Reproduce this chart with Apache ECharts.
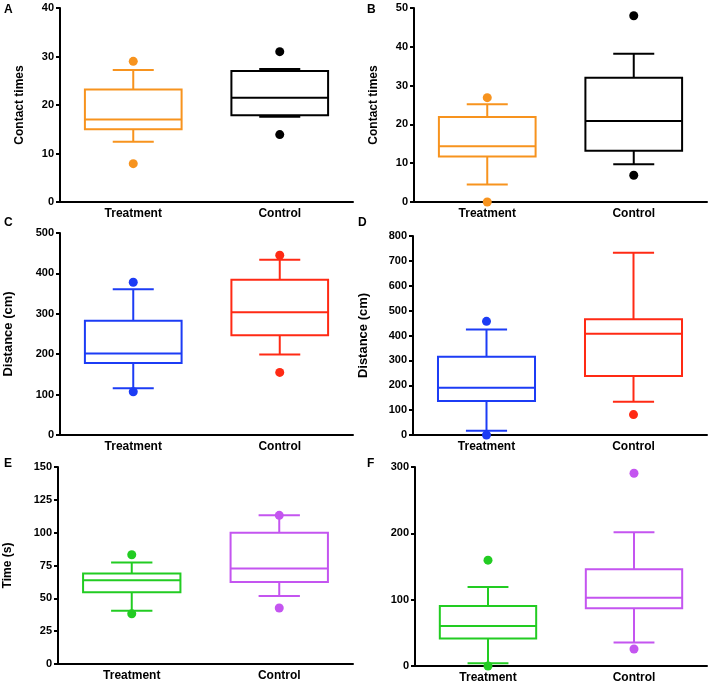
<!DOCTYPE html>
<html>
<head>
<meta charset="utf-8">
<script src="https://cdn.jsdelivr.net/npm/echarts@6/dist/echarts.min.js"></script>
</head>
<body style="margin: 0; background: #fff">
<div id="main" style="width: 708px; height: 688px"></div>
<script type="text/javascript">
    var categories = ['Treatment', 'Control'];

    // box values: [lower whisker, Q1, median, Q3, upper whisker]
    var aTreatment = [12.4, 15.0, 17.0, 23.2, 27.2];
    var aControl = [17.6, 17.9, 21.5, 27.0, 27.4];
    var aTreatmentOut = [29, 7.9];
    var aControlOut = [31, 13.9];

    var bTreatment = [4.5, 11.7, 14.4, 21.9, 25.2];
    var bControl = [9.7, 13.2, 20.9, 32.0, 38.2];
    var bTreatmentOut = [26.9, 0];
    var bControlOut = [48, 6.9];

    var cTreatment = [116, 178, 202, 283, 361];
    var cControl = [199, 247, 304, 384, 434];
    var cTreatmentOut = [378, 107];
    var cControlOut = [445, 155];

    var dTreatment = [17, 137, 190, 315, 424];
    var dControl = [134, 237, 407, 465, 733];
    var dTreatmentOut = [457, 0];
    var dControlOut = [82];

    var eTreatment = [40.6, 54.6, 63.7, 69.0, 77.2];
    var eControl = [51.8, 62.4, 72.8, 100, 113.2];
    var eTreatmentOut = [83.2, 38.3];
    var eControlOut = [113.2, 42.6];

    var fTreatment = [4, 41.6, 60.2, 90.3, 119];
    var fControl = [35.6, 87, 103, 146, 201.7];
    var fTreatmentOut = [159.6, 0];
    var fControlOut = [290.5, 25.6];

    // y ticks: [min, max, interval]
    var aTicks = [0, 40, 10];
    var bTicks = [0, 50, 10];
    var cTicks = [0, 500, 100];
    var dTicks = [0, 800, 100];
    var eTicks = [0, 150, 25];
    var fTicks = [0, 300, 100];

    var yTitles = ['Contact times', 'Contact times', 'Distance (cm)', 'Distance (cm)', 'Time (s)', ''];
    var letters = ['A', 'B', 'C', 'D', 'E', 'F'];

    var font = 'Liberation Sans, Arial, sans-serif';

    var panels = [
        {box: [aTreatment, aControl], out: [aTreatmentOut, aControlOut], ticks: aTicks, colors: ['#F7931E', '#000000'],
            grid: {left: 60, top: 8, width: 293, height: 194}, gap: 34, nameSize: 12, letter: [4, 4]},
        {box: [bTreatment, bControl], out: [bTreatmentOut, bControlOut], ticks: bTicks, colors: ['#F7931E', '#000000'],
            grid: {left: 414, top: 8, width: 293, height: 194}, gap: 34, nameSize: 12, letter: [367, 4]},
        {box: [cTreatment, cControl], out: [cTreatmentOut, cControlOut], ticks: cTicks, colors: ['#1C3CF5', '#FF2A14'],
            grid: {left: 60, top: 233, width: 293, height: 202}, gap: 45, nameSize: 13, letter: [4, 217]},
        {box: [dTreatment, dControl], out: [dTreatmentOut, dControlOut], ticks: dTicks, colors: ['#1C3CF5', '#FF2A14'],
            grid: {left: 413, top: 236, width: 294, height: 199}, gap: 43, nameSize: 13, letter: [358, 217]},
        {box: [eTreatment, eControl], out: [eTreatmentOut, eControlOut], ticks: eTicks, colors: ['#22CC22', '#C455F0'],
            grid: {left: 58, top: 467, width: 295, height: 197}, gap: 44, nameSize: 12, letter: [4, 458]},
        {box: [fTreatment, fControl], out: [fTreatmentOut, fControlOut], ticks: fTicks, colors: ['#22CC22', '#C455F0'],
            grid: {left: 415, top: 467, width: 292, height: 199}, gap: 40, nameSize: 12, letter: [367, 458]}
    ];

    function makeRender(colors) {
        return function (params, api) {
            var idx = api.value(0);
            var band = api.size([1, 0])[0];
            var half = band * 0.33;
            var cap = band * 0.14;
            var lo = api.coord([idx, api.value(1)]);
            var q1 = api.coord([idx, api.value(2)]);
            var md = api.coord([idx, api.value(3)]);
            var q3 = api.coord([idx, api.value(4)]);
            var hi = api.coord([idx, api.value(5)]);
            var x = lo[0];
            var st = {stroke: colors[idx], lineWidth: 2, fill: 'none'};
            return {
                type: 'group',
                children: [
                    {type: 'line', shape: {x1: x, y1: q3[1], x2: x, y2: hi[1]}, style: st},
                    {type: 'line', shape: {x1: x, y1: q1[1], x2: x, y2: lo[1]}, style: st},
                    {type: 'line', shape: {x1: x - cap, y1: hi[1], x2: x + cap, y2: hi[1]}, style: st},
                    {type: 'line', shape: {x1: x - cap, y1: lo[1], x2: x + cap, y2: lo[1]}, style: st},
                    {type: 'rect', shape: {x: x - half, y: q3[1], width: half * 2, height: q1[1] - q3[1]}, style: st},
                    {type: 'line', shape: {x1: x - half, y1: md[1], x2: x + half, y2: md[1]}, style: st}
                ]
            };
        };
    }

    var grids = [], xAxes = [], yAxes = [], series = [], titles = [];
    panels.forEach(function (p, i) {
        grids.push({left: p.grid.left, top: p.grid.top, width: p.grid.width, height: p.grid.height, outerBoundsMode: 'none'});
        xAxes.push({
            type: 'category', gridIndex: i, data: categories, boundaryGap: true,
            axisLine: {lineStyle: {color: '#000', width: 2}},
            axisTick: {alignWithLabel: true, length: 5, lineStyle: {color: '#000', width: 2}},
            axisLabel: {color: '#000', fontWeight: 'bold', fontSize: 12, fontFamily: font, margin: 6},
            splitLine: {show: false}
        });
        yAxes.push({
            type: 'value', gridIndex: i, min: p.ticks[0], max: p.ticks[1], interval: p.ticks[2],
            name: yTitles[i], nameLocation: 'middle', nameGap: p.gap,
            nameTextStyle: {color: '#000', fontWeight: 'bold', fontSize: p.nameSize, fontFamily: font},
            axisLine: {show: true, lineStyle: {color: '#000', width: 2}},
            axisTick: {show: true, length: 4, lineStyle: {color: '#000', width: 2}},
            axisLabel: {color: '#000', fontWeight: 'bold', fontSize: 11, fontFamily: font, margin: 6},
            splitLine: {show: false}
        });
        var boxData = p.box.map(function (b, k) { return [k].concat(b); });
        series.push({
            type: 'custom', xAxisIndex: i, yAxisIndex: i, clip: false,
            renderItem: makeRender(p.colors), data: boxData
        });
        p.out.forEach(function (vals, k) {
            series.push({
                type: 'scatter', xAxisIndex: i, yAxisIndex: i, clip: false, z: 3,
                symbol: 'circle', symbolSize: 9,
                itemStyle: {color: p.colors[k], opacity: 1},
                data: vals.map(function (v) { return [k, v]; })
            });
        });
        titles.push({
            text: letters[i], left: p.letter[0], top: p.letter[1], padding: 0,
            textStyle: {color: '#000', fontWeight: 'bold', fontSize: 12, fontFamily: font}
        });
    });

    var myChart = echarts.init(document.getElementById('main'), null, {renderer: 'canvas'});
    myChart.setOption({
        animation: false,
        backgroundColor: '#fff',
        title: titles,
        grid: grids,
        xAxis: xAxes,
        yAxis: yAxes,
        series: series
    });
</script>
</body>
</html>
